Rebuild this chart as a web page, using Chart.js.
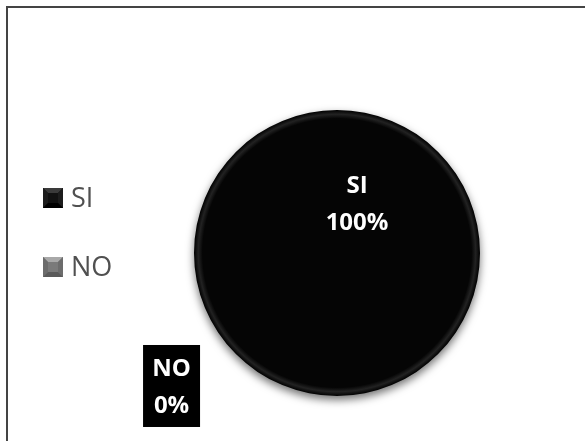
<!DOCTYPE html>
<html>
<head>
<meta charset="utf-8">
<script src="https://cdn.jsdelivr.net/npm/chart.js@4/dist/chart.umd.min.js"></script>
<style>
  html, body { margin: 0; padding: 0; background: #fff; }
  #wrap { position: relative; width: 585px; height: 441px; overflow: hidden; }
  #frame { position: absolute; left: 6px; top: 6px; width: 700px; height: 600px;
           border-top: 2px solid #444; border-left: 2px solid #444; box-sizing: border-box; }
  #chart { position: absolute; left: 0; top: 0; }
</style>
</head>
<body>
<div id="wrap">
  <div id="frame"></div>
  <canvas id="chart" width="585" height="441"></canvas>
</div>
<script>
// data (percent)
const labels = ['SI', 'NO']
const values = [100, 0]
const percentText = ['100%', '0%']
const colors = ['#050505', '#7f7f7f']

// where excel put the data labels, in units of the pie radius from its centre
const labelOffsets = [[0.14, -0.35], [-1.157, 0.93]]

function bevelSquare(base, light, dark, mid){
    const c = document.createElement('canvas')
    c.width = 20; c.height = 20
    const g = c.getContext('2d')
    g.fillStyle = base
    g.fillRect(0, 0, 20, 20)
    const tri = (pts, col) => {
        g.beginPath()
        g.moveTo(pts[0][0], pts[0][1])
        for (let i = 1; i < pts.length; i++) g.lineTo(pts[i][0], pts[i][1])
        g.closePath()
        g.fillStyle = col
        g.fill()
    }
    tri([[0,0],[20,0],[15,5],[5,5]], light)
    tri([[0,0],[5,5],[5,15],[0,20]], mid)
    tri([[20,0],[15,5],[15,15],[20,20]], mid)
    tri([[0,20],[5,15],[15,15],[20,20]], dark)
    g.fillStyle = base
    g.fillRect(5, 5, 10, 10)
    return c
}
const legendBoxes = [
    bevelSquare('#111', '#3a3a3a', '#000', '#1c1c1c'),
    bevelSquare('#7a7a7a', '#a8a8a8', '#5a5a5a', '#6c6c6c')
]

const pieShadow = {
    id: 'pieShadow',
    beforeDatasetsDraw(chart){
        const ctx = chart.ctx
        ctx.save()
        ctx.shadowColor = 'rgba(0,0,0,0.55)'
        ctx.shadowBlur = 9
        ctx.shadowOffsetY = 4
    },
    afterDatasetsDraw(chart){
        chart.ctx.restore()
    }
}

const dataLabels = {
    id: 'dataLabels',
    afterDraw(chart){
        const ctx = chart.ctx
        const meta = chart.getDatasetMeta(0)
        ctx.save()
        ctx.font = 'bold 24px "Open Sans"'
        ctx.textAlign = 'center'
        ctx.textBaseline = 'alphabetic'
        meta.data.forEach((arc, i) => {
            const r = arc.outerRadius
            const x = arc.x + labelOffsets[i][0] * r
            const y = arc.y + labelOffsets[i][1] * r
            if (values[i] === 0) {
                ctx.fillStyle = '#000'
                ctx.fillRect(x - 28.5, y - 41, 57, 82)
            }
            ctx.fillStyle = '#fff'
            ctx.fillText(labels[i], x, y - 10)
            ctx.fillText(percentText[i], x, y + 27)
        })
        ctx.restore()
    }
}

const sideLegend = {
    id: 'sideLegend',
    afterDraw(chart){
        const ctx = chart.ctx
        ctx.save()
        ctx.font = '27px "Open Sans"'
        ctx.fillStyle = '#505050'
        ctx.textBaseline = 'alphabetic'
        labels.forEach((l, i) => {
            const top = 188 + i * 69
            ctx.drawImage(legendBoxes[i], 43, top)
            ctx.fillText(l, 71, top + 19)
        })
        ctx.restore()
    }
}

function pieFill(context){
    const i = context.dataIndex
    const chart = context.chart
    const area = chart.chartArea
    if (!area) return colors[i]
    const cx = (area.left + area.right) / 2
    const cy = (area.top + area.bottom) / 2
    const r = Math.min(area.right - area.left, area.bottom - area.top) / 2
    const g = chart.ctx.createRadialGradient(cx, cy, 0, cx, cy, r)
    g.addColorStop(0, colors[i])
    g.addColorStop(0.94, colors[i])
    g.addColorStop(0.97, i === 0 ? '#222' : '#999')
    g.addColorStop(1, i === 0 ? '#000' : '#666')
    return g
}

Chart.defaults.font.family = '"Open Sans"'

document.fonts.load('24px "Open Sans"').then(() => document.fonts.load('bold 24px "Open Sans"')).finally(MakeChart)

function MakeChart(){
    const ctx = document.getElementById('chart')
    new Chart(ctx, {
        type: 'pie',
        data: {
            labels: labels,
            datasets: [{
                data: values,
                backgroundColor: pieFill,
                borderWidth: 0
            }]
        },
        options: {
            responsive: false,
            animation: false,
            layout: {
                padding: { left: 194, right: 105, top: 110, bottom: 45 }
            },
            plugins: {
                legend: { display: false },
                tooltip: { enabled: false }
            }
        },
        plugins: [pieShadow, dataLabels, sideLegend]
    })
}
</script>
</body>
</html>
